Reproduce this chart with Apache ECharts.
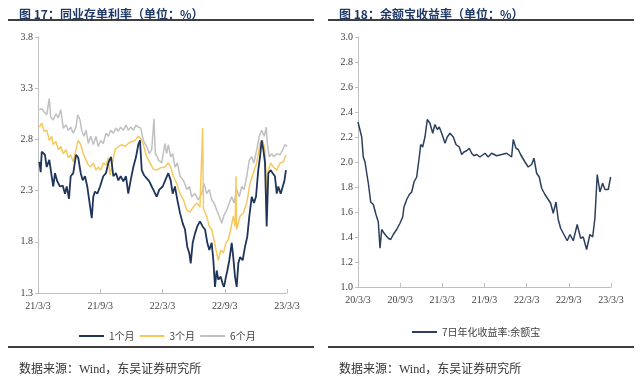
<!DOCTYPE html>
<html>
<head>
<meta charset="utf-8">
<script src="https://cdn.jsdelivr.net/npm/echarts@6/dist/echarts.min.js"></script>
<style>
html,body{margin:0;padding:0;background:#fff;}
#container{width:640px;height:378px;}
</style>
</head>
<body>
<div id="container"></div>
<script>
// 图17 同业存单利率, x = months since 21/3/3
var leftTicks = ['21/3/3', '21/9/3', '22/3/3', '22/9/3', '23/3/3'];
var m1Months = [0.13,0.26,0.36,0.67,0.84,1.09,1.32,1.47,1.64,1.86,2.12,2.38,2.60,2.77,2.99,3.15,3.40,3.66,3.88,4.12,4.31,4.53,4.75,4.94,5.18,5.33,5.49,5.72,5.98,6.29,6.55,6.78,7.04,7.26,7.52,7.74,7.97,8.22,8.48,8.70,8.93,9.19,9.45,9.67,9.83,10.00,10.22,10.48,10.73,10.96,11.11,11.44,11.69,12.02,12.34,12.56,12.79,12.98,13.20,13.43,13.69,13.95,14.17,14.39,14.58,14.72,14.91,15.13,15.35,15.61,15.87,16.10,16.32,16.51,16.74,16.90,17.06,17.22,17.38,17.61,17.80,17.93,18.12,18.25,18.44,18.67,18.82,18.99,19.15,19.31,19.47,19.73,19.95,20.17,20.37,20.60,20.82,21.01,21.23,21.40,21.56,21.72,21.88,22.04,22.20,22.43,22.62,22.84,23.01,23.16,23.39,23.59,23.74,23.90];
var m1Rates = [2.58,2.48,2.68,2.65,2.53,2.60,2.44,2.34,2.47,2.39,2.34,2.35,2.27,2.34,2.22,2.44,2.47,2.65,2.62,2.47,2.40,2.44,2.34,2.35,2.03,2.24,2.29,2.27,2.34,2.44,2.47,2.57,2.63,2.44,2.47,2.40,2.44,2.39,2.44,2.27,2.40,2.53,2.63,2.75,2.79,2.50,2.45,2.42,2.39,2.34,2.31,2.24,2.31,2.34,2.42,2.47,2.40,2.27,2.34,2.21,2.08,1.98,1.92,1.75,1.69,1.59,1.79,1.88,1.95,2.00,1.95,1.92,1.79,1.72,1.79,1.62,1.36,1.52,1.43,1.46,1.39,1.36,1.46,1.52,1.62,1.79,1.65,1.46,1.36,1.59,1.65,1.62,1.75,1.85,2.05,2.24,2.18,2.24,2.50,2.63,2.79,2.70,2.57,1.95,2.47,2.50,2.47,2.44,2.27,2.34,2.27,2.34,2.39,2.50];
var m3Months = [0.13,0.36,0.58,0.84,1.09,1.32,1.47,1.73,1.96,2.19,2.44,2.70,2.92,3.15,3.40,3.66,3.88,4.12,4.37,4.63,4.85,5.08,5.33,5.59,5.81,6.04,6.29,6.55,6.78,6.94,7.10,7.42,7.74,8.07,8.39,8.70,9.03,9.35,9.67,9.90,10.15,10.48,10.80,11.11,11.44,11.76,12.24,12.56,12.79,13.04,13.37,13.69,14.02,14.34,14.65,14.97,15.30,15.61,15.80,15.87,15.95,16.26,16.51,16.74,16.96,17.16,17.38,17.61,17.86,18.12,18.34,18.57,18.82,19.00,19.08,19.15,19.47,19.79,20.12,20.43,20.75,21.08,21.40,21.66,21.88,22.04,22.20,22.43,22.68,23.01,23.33,23.64,23.90];
var m3Rates = [2.92,2.96,2.88,2.89,2.79,2.83,2.75,2.78,2.70,2.73,2.66,2.70,2.62,2.65,2.58,2.70,2.79,2.75,2.66,2.60,2.55,2.53,2.57,2.50,2.53,2.50,2.57,2.55,2.62,2.45,2.53,2.70,2.73,2.75,2.73,2.76,2.78,2.79,2.83,2.81,2.75,2.63,2.57,2.51,2.50,2.52,2.53,2.57,2.53,2.44,2.37,2.27,2.21,2.11,2.09,2.14,2.18,2.14,2.14,2.91,2.12,2.05,1.95,1.92,1.82,1.72,1.62,1.72,1.69,1.79,1.82,1.92,2.05,1.95,2.44,1.92,2.05,2.08,2.18,2.37,2.47,2.57,2.76,2.79,2.70,2.25,2.50,2.57,2.53,2.50,2.57,2.58,2.65];
var m6Months = [0.13,0.36,0.58,0.84,1.09,1.22,1.47,1.73,1.96,2.19,2.44,2.70,2.92,3.15,3.40,3.66,3.83,4.05,4.21,4.43,4.63,4.85,5.08,5.33,5.59,5.81,6.04,6.29,6.55,6.78,7.01,7.26,7.52,7.74,7.97,8.22,8.48,8.70,8.93,9.19,9.45,9.67,9.90,10.15,10.48,10.73,10.96,11.18,11.31,11.50,11.60,11.92,12.24,12.40,12.56,12.79,12.98,13.20,13.43,13.69,14.02,14.34,14.60,14.81,15.13,15.45,15.78,16.00,16.26,16.51,16.74,16.96,17.22,17.47,17.71,17.93,18.19,18.44,18.67,18.89,19.15,19.40,19.63,19.86,20.12,20.37,20.60,20.82,21.08,21.33,21.56,21.81,22.00,22.10,22.29,22.53,22.75,23.01,23.33,23.59,23.81,23.99];
var m6Rates = [3.09,3.10,3.07,3.04,3.20,3.02,2.99,3.05,3.01,3.09,2.91,2.94,2.89,2.92,2.86,2.92,3.04,2.99,2.89,2.83,2.89,2.76,2.83,2.75,2.83,2.73,2.79,2.76,2.86,2.83,2.89,2.86,2.91,2.88,2.92,2.89,2.94,2.89,2.92,2.89,2.94,2.92,2.91,2.79,2.73,2.66,2.70,3.00,2.66,2.63,2.60,2.57,2.76,2.66,2.75,2.63,2.66,2.53,2.57,2.44,2.40,2.31,2.34,2.24,2.27,2.21,2.27,2.37,2.27,2.31,2.21,2.18,2.11,2.05,1.98,2.06,2.11,2.18,2.24,2.18,2.31,2.24,2.34,2.31,2.44,2.60,2.63,2.57,2.70,2.83,2.89,2.83,2.92,2.76,2.63,2.66,2.63,2.66,2.65,2.70,2.75,2.73];

// 图18 余额宝收益率, x = months since 20/3/3
var rightTicks = ['20/3/3', '20/9/3', '21/3/3', '21/9/3', '22/3/3', '22/9/3', '23/3/3'];
var yebMonths = [0.00,0.53,0.75,1.00,1.24,1.47,1.81,2.18,2.56,2.89,3.13,3.37,3.60,3.84,4.31,4.65,5.02,5.50,5.97,6.36,6.54,6.93,7.30,7.64,7.97,8.35,8.72,8.92,9.20,9.53,9.86,10.24,10.63,10.95,11.28,11.56,11.91,12.38,12.70,13.09,13.56,13.94,14.41,14.75,15.08,15.46,15.83,16.17,16.50,16.88,17.35,18.07,18.53,19.02,19.73,20.44,21.15,21.86,22.09,22.48,22.80,23.14,23.76,24.22,24.71,25.04,25.42,25.79,26.13,26.60,27.07,27.41,27.78,28.17,28.49,28.83,29.30,29.77,30.16,30.63,31.19,31.68,32.05,32.53,33.00,33.39,33.71,34.04,34.42,34.81,35.14,35.61,35.95];
var yebRates = [2.32,2.20,2.04,2.00,1.91,1.83,1.68,1.66,1.58,1.52,1.31,1.46,1.44,1.42,1.39,1.38,1.42,1.46,1.51,1.56,1.64,1.70,1.74,1.76,1.84,1.88,2.04,2.14,2.12,2.20,2.34,2.31,2.23,2.30,2.26,2.28,2.23,2.15,2.20,2.23,2.20,2.14,2.12,2.06,2.08,2.09,2.11,2.07,2.05,2.06,2.04,2.07,2.04,2.07,2.05,2.06,2.07,2.04,2.18,2.11,2.10,2.06,2.00,1.96,1.98,2.03,1.91,1.88,1.79,1.74,1.70,1.67,1.59,1.68,1.54,1.47,1.42,1.37,1.42,1.37,1.50,1.39,1.40,1.30,1.42,1.40,1.55,1.90,1.76,1.83,1.78,1.78,1.88];

function zip(xs, ys) {
	var arr = [];
	for (var i = 0; i < xs.length; ++i) arr.push([xs[i], ys[i]]);
	return arr;
}

var serif = 'Liberation Serif, Noto Sans CJK SC';
var axisGrey = '#bfbfbf';
var labelStyle = { fontFamily: serif, fontSize: 10, color: '#404040' };
var legendText = { fontFamily: 'Noto Sans CJK SC', fontSize: 10, color: '#404040' };

var myChart = echarts.init(document.getElementById('container'));
var option = {
	backgroundColor: '#fff',
	animation: false,
	title: [
		{ text: '图 17：同业存单利率（单位：%）', left: 14, top: 3,
		  textStyle: { fontFamily: 'Noto Sans CJK SC', fontSize: 12, fontWeight: 'bold', color: '#1f3864' } },
		{ text: '图 18：余额宝收益率（单位：%）', left: 334, top: 3,
		  textStyle: { fontFamily: 'Noto Sans CJK SC', fontSize: 12, fontWeight: 'bold', color: '#1f3864' } },
		{ text: '数据来源：Wind，东吴证券研究所', left: 14, top: 359,
		  textStyle: { fontFamily: serif, fontSize: 12, fontWeight: 'normal', color: '#333' } },
		{ text: '数据来源：Wind，东吴证券研究所', left: 334, top: 359,
		  textStyle: { fontFamily: serif, fontSize: 12, fontWeight: 'normal', color: '#333' } }
	],
	graphic: [
		{ type: 'line', shape: { x1: 8, y1: 20, x2: 314, y2: 20 }, style: { stroke: '#3f3f3f', lineWidth: 2 } },
		{ type: 'line', shape: { x1: 328, y1: 20, x2: 634, y2: 20 }, style: { stroke: '#3f3f3f', lineWidth: 2 } },
		{ type: 'line', shape: { x1: 8, y1: 347, x2: 314, y2: 347 }, style: { stroke: '#3f3f3f', lineWidth: 2 } },
		{ type: 'line', shape: { x1: 328, y1: 347, x2: 634, y2: 347 }, style: { stroke: '#3f3f3f', lineWidth: 2 } }
	],
	legend: [
		{ id: 'legL', data: ['1个月', '3个月', '6个月'], left: 74, top: 326, itemWidth: 25, itemHeight: 2, itemGap: 5,
		  icon: 'rect', textStyle: legendText },
		{ id: 'legR', data: ['7日年化收益率:余额宝'], left: 407, top: 322, itemWidth: 25, itemHeight: 2,
		  icon: 'rect', textStyle: legendText }
	],
	grid: [
		{ left: 38, top: 37, width: 249, height: 256 },
		{ left: 358, top: 37, width: 253, height: 250 }
	],
	xAxis: [
		{ type: 'value', gridIndex: 0, min: 0, max: 24, interval: 6,
		  axisLine: { lineStyle: { color: axisGrey } },
		  axisTick: { inside: true, length: 4, lineStyle: { color: axisGrey } },
		  splitLine: { show: false },
		  axisLabel: Object.assign({ margin: 8, formatter: function(v) { return leftTicks[v / 6]; } }, labelStyle) },
		{ type: 'value', gridIndex: 1, min: 0, max: 36, interval: 6,
		  axisLine: { lineStyle: { color: axisGrey } },
		  axisTick: { inside: true, length: 4, lineStyle: { color: axisGrey } },
		  splitLine: { show: false },
		  axisLabel: Object.assign({ margin: 8, formatter: function(v) { return rightTicks[v / 6]; } }, labelStyle) }
	],
	yAxis: [
		{ type: 'value', gridIndex: 0, min: 1.3, max: 3.8, interval: 0.5,
		  axisLine: { show: true, lineStyle: { color: axisGrey } },
		  axisTick: { show: true, length: 3, lineStyle: { color: axisGrey } },
		  splitLine: { show: false },
		  axisLabel: Object.assign({ margin: 5, formatter: function(v) { return v.toFixed(1); } }, labelStyle) },
		{ type: 'value', gridIndex: 1, min: 1.0, max: 3.0, interval: 0.2,
		  axisLine: { show: true, lineStyle: { color: axisGrey } },
		  axisTick: { show: true, length: 3, lineStyle: { color: axisGrey } },
		  splitLine: { show: false },
		  axisLabel: Object.assign({ margin: 5, formatter: function(v) { return v.toFixed(1); } }, labelStyle) }
	],
	series: [
		{ name: '6个月', type: 'line', xAxisIndex: 0, yAxisIndex: 0, showSymbol: false,
		  data: zip(m6Months, m6Rates), lineStyle: { color: '#c0c0c0', width: 1.5 }, itemStyle: { color: '#c0c0c0' } },
		{ name: '3个月', type: 'line', xAxisIndex: 0, yAxisIndex: 0, showSymbol: false,
		  data: zip(m3Months, m3Rates), lineStyle: { color: '#f6c95f', width: 1.5 }, itemStyle: { color: '#f6c95f' } },
		{ name: '1个月', type: 'line', xAxisIndex: 0, yAxisIndex: 0, showSymbol: false,
		  data: zip(m1Months, m1Rates), lineStyle: { color: '#1f355a', width: 1.8 }, itemStyle: { color: '#1f355a' } },
		{ name: '7日年化收益率:余额宝', type: 'line', xAxisIndex: 1, yAxisIndex: 1, showSymbol: false,
		  data: zip(yebMonths, yebRates), lineStyle: { color: '#2d3f5e', width: 1.5 }, itemStyle: { color: '#2d3f5e' } }
	]
};
myChart.setOption(option);
</script>
</body>
</html>
